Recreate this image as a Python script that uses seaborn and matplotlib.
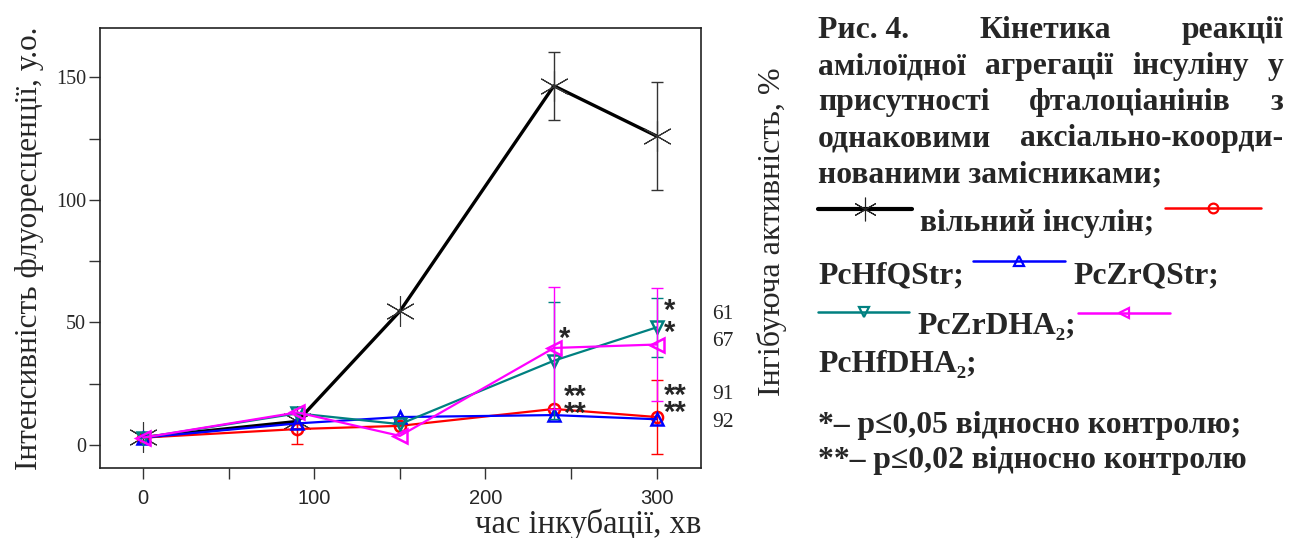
import numpy as np
import pandas as pd
import matplotlib
matplotlib.use("Agg")
import matplotlib.pyplot as plt
from matplotlib.lines import Line2D
from matplotlib.ticker import FixedLocator
import seaborn as sns

# час інкубації, хв
time_min = [0, 90, 150, 240, 300]

# інтенсивність флуоресценції, у.о.
insulin = [3.1, 9.6, 54.6, 146.6, 126.1]
insulin_err = [0, 0, 0, 14, 22]
pchfqstr = [3.0, 6.5, 7.8, 14.7, 11.4]
pchfqstr_err = [0, 6, 0, 0, 15]
pczrqstr = [3.0, 8.8, 11.4, 12.2, 10.5]
pczrqstr_err = [0, 0, 0, 0, 0]
pczrdha2 = [3.0, 12.9, 8.5, 34.4, 48.0]
pczrdha2_err = [0, 0, 0, 24, 12]
pchfdha2 = [3.0, 13.3, 3.7, 39.6, 41.0]
pchfdha2_err = [0, 0, 0, 25, 23]

series_names = ["вільний інсулін", "PcHfQStr", "PcZrQStr", "PcZrDHA₂", "PcHfDHA₂"]
colors = ["#000000", "#ff0000", "#0000ff", "#008080", "#ff00ff"]
markers = [(6, 2, 0), "o", "^", "v", "<"]

# інгібуюча активність, % (праворуч від графіка)
inhib_labels = ["61", "67", "91", "92"]
inhib_y = [53.1, 42.2, 20.4, 9.1]

# позначки значущості
star_labels = ["*", "*\n*", "**\n**", "**\n**"]
star_x = [243, 304, 246, 304]
star_y = [43.4, 50.2, 16.1, 16.7]
star_spacing = [1.0, 0.76, 0.48, 0.5]

W, H = 1303, 538
SERIF = ["Liberation Serif", "DejaVu Serif"]
SANS = ["Liberation Sans", "DejaVu Sans"]

sns.set_style("ticks")
plt.rcParams["font.family"] = SERIF

fig = plt.figure(figsize=(W / 100, H / 100), dpi=100)
ax = fig.add_axes([100 / W, 1 - 468 / H, 601 / W, 440 / H])

values = [insulin, pchfqstr, pczrqstr, pczrdha2, pchfdha2]
errors = [insulin_err, pchfqstr_err, pczrqstr_err, pczrdha2_err, pchfdha2_err]
msizes = [22, 8, 9, 9, 10]
lwidths = [2.4, 1.6, 1.6, 1.6, 1.6]
ecolors = ["#333333", "#ff0000", "#0000ff", "#008080", "#ff00ff"]

for i, name in enumerate(series_names):
    df = pd.DataFrame({"t": time_min, "v": values[i]})
    sns.lineplot(data=df, x="t", y="v", ax=ax, color=colors[i],
                 marker=markers[i], markersize=msizes[i],
                 markerfacecolor="none",
                 markeredgecolor="#333333" if i == 0 else colors[i],
                 markeredgewidth=0.8 if i == 0 else 1.8,
                 linewidth=lwidths[i], zorder=3 + i)
    err = np.array(errors[i])
    m = err > 0
    if m.any():
        ax.errorbar(np.array(time_min)[m], np.array(values[i])[m], yerr=err[m],
                    fmt="none", ecolor=ecolors[i], elinewidth=1, capsize=4,
                    capthick=1, zorder=2 + i)

for lab, x, y, ls in zip(star_labels, star_x, star_y, star_spacing):
    ax.text(x, y, lab, fontsize=21, fontweight="bold", family=SANS,
            ha="left", va="center", linespacing=ls, zorder=10)

for lab, y in zip(inhib_labels, inhib_y):
    ax.text(339, y, lab, fontsize=15.5, ha="center", va="center", clip_on=False)

ax.set_xlim(-25.3, 326)
ax.set_ylim(-9.4, 170.2)
ax.xaxis.set_major_locator(FixedLocator([0, 100, 200, 300]))
ax.xaxis.set_minor_locator(FixedLocator([50, 150, 250]))
ax.yaxis.set_major_locator(FixedLocator([0, 50, 100, 150]))
ax.yaxis.set_minor_locator(FixedLocator([25, 75, 125]))
ax.tick_params(which="both", direction="out", length=8, width=1, color="#333333")
ax.tick_params(axis="x", pad=7)
ax.tick_params(axis="y", pad=2)
for lab in ax.get_xticklabels():
    lab.set_family(SANS)
    lab.set_fontsize(14.5)
for lab in ax.get_yticklabels():
    lab.set_family(SERIF)
    lab.set_fontsize(14.5)
for sp in ax.spines.values():
    sp.set_visible(True)
    sp.set_linewidth(1.2)
    sp.set_color("#222222")

ax.set_xlabel("час інкубації, хв", fontsize=23.5, loc="right")
ax.xaxis.set_label_coords(1.0, (468 - 508) / 440)
ax.set_ylabel("Інтенсивність флуоресценції, у.о.", fontsize=22.5)
ax.yaxis.set_label_coords((44 - 100) / 601, 0.5)
ax.text((772 - 100) / 601, (468 - 232) / 440, "Інгібуюча активність, %",
        transform=ax.transAxes, rotation=90, fontsize=23,
        ha="center", va="center")

# підпис до рисунка праворуч
ov = fig.add_axes([0, 0, 1, 1])
ov.set_xlim(0, W)
ov.set_ylim(H, 0)
ov.axis("off")
cap = dict(fontsize=22.8, fontweight="bold", family=SERIF, va="baseline")

def justify_line(words, y, x0=818, x1=1283):
    texts = [ov.text(0, y, w, ha="left", **cap) for w in words]
    fig.canvas.draw()
    r = fig.canvas.get_renderer()
    widths = [t.get_window_extent(r).width for t in texts]
    gap = (x1 - x0 - sum(widths)) / (len(words) - 1)
    x = x0
    for t, w in zip(texts, widths):
        t.set_x(x)
        x += w + gap

justify_line(["Рис. 4.", "Кінетика", "реакції"], 38)
justify_line(["амілоїдної", "агрегації", "інсуліну", "у"], 74)
justify_line(["присутності", "фталоціанінів", "з"], 110)
justify_line(["однаковими", "аксіально-коорди-"], 146)
ov.text(818, 182, "нованими замісниками;", **cap)

def sample(x0, x1, y, i):
    ov.add_line(Line2D([x0, x1], [y, y], color=colors[i], lw=3.0 if i == 0 else 1.8))
    ov.add_line(Line2D([(x0 + x1) / 2], [y], marker=markers[i],
                       markersize=17 if i == 0 else 7, markerfacecolor="none",
                       markeredgecolor="#222222" if i == 0 else colors[i],
                       markeredgewidth=0.8 if i == 0 else 1.6, lw=0))

sample(818, 912, 209, 0)
ov.text(920, 231, "вільний інсулін;", **cap)
sample(1165, 1261, 208, 1)
ov.text(818, 283, "PcHfQStr;", **cap)
sample(973, 1065, 261, 2)
ov.text(1073, 283, "PcZrQStr;", **cap)
sample(818, 909, 312, 3)
ov.text(917, 334, "PcZrDHA₂;", **cap)
sample(1078, 1170, 313, 4)
ov.text(818, 372, "PcHfDHA₂;", **cap)
ov.text(818, 433, "*– p≤0,05 відносно контролю;", **cap)
ov.text(818, 468, "**– p≤0,02 відносно контролю", **cap)

fig.savefig("out.png", dpi=100)
